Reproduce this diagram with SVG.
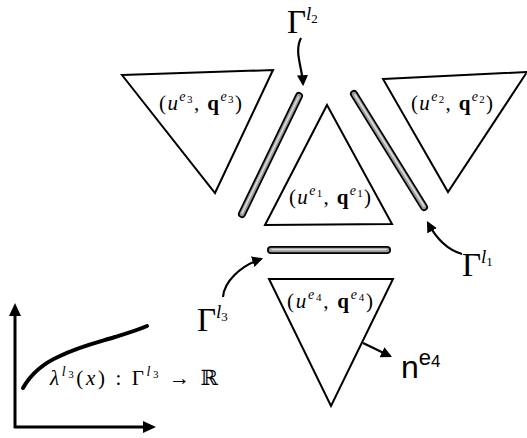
<svg xmlns="http://www.w3.org/2000/svg" width="527" height="438" viewBox="0 0 527 438">
<defs>
<style>
.tri{fill:#fff;stroke:#000;stroke-width:2;stroke-linejoin:miter}
.barO{stroke:#000;stroke-width:8;stroke-linecap:round;fill:none}
.barI{stroke:#9a9a9a;stroke-width:4.5;stroke-linecap:round;fill:none}
.barL{stroke:#dcdcdc;stroke-width:1.6;stroke-linecap:round;fill:none}
.arr{fill:none;stroke:#000;stroke-width:2.2}
.ax{fill:none;stroke:#000;stroke-width:3}
.m{font-family:"Liberation Serif","DejaVu Serif",serif;fill:#000}
.lab{font-size:21px}
.G{font-size:33px}
.s{font-family:"Liberation Sans","DejaVu Sans",sans-serif;fill:#000}
</style>
<marker id="ah" viewBox="0 0 10 10" refX="8" refY="5" markerWidth="5" markerHeight="5" orient="auto" markerUnits="strokeWidth">
<path d="M0,0 L10,5 L0,10 z" fill="#000"/>
</marker>
</defs>
<g id="e3">
<polygon class="tri" points="122,75 273,70 215,193"/>
<text class="m lab" x="159" y="110" textLength="83" lengthAdjust="spacing">(<tspan font-style="italic">u</tspan><tspan font-size="14" font-style="italic" dy="-9">e</tspan><tspan font-size="11" dy="2">3</tspan><tspan dy="7">, </tspan><tspan font-weight="bold">q</tspan><tspan font-size="14" font-style="italic" dy="-9">e</tspan><tspan font-size="11" dy="2">3</tspan><tspan dy="7">)</tspan></text>
</g>
<g id="e2">
<polygon class="tri" points="383,79 527,72 448,192"/>
<text class="m lab" x="411" y="110" textLength="82" lengthAdjust="spacing">(<tspan font-style="italic">u</tspan><tspan font-size="14" font-style="italic" dy="-9">e</tspan><tspan font-size="11" dy="2">2</tspan><tspan dy="7">, </tspan><tspan font-weight="bold">q</tspan><tspan font-size="14" font-style="italic" dy="-9">e</tspan><tspan font-size="11" dy="2">2</tspan><tspan dy="7">)</tspan></text>
</g>
<g id="e1">
<polygon class="tri" points="327,105 392,224 265,225"/>
<text class="m lab" x="289" y="204" textLength="82" lengthAdjust="spacing">(<tspan font-style="italic">u</tspan><tspan font-size="14" font-style="italic" dy="-9">e</tspan><tspan font-size="11" dy="2">1</tspan><tspan dy="7">, </tspan><tspan font-weight="bold">q</tspan><tspan font-size="14" font-style="italic" dy="-9">e</tspan><tspan font-size="11" dy="2">1</tspan><tspan dy="7">)</tspan></text>
</g>
<g id="e4">
<polygon class="tri" points="269,279 393,279 331,406"/>
<text class="m lab" x="287" y="308" textLength="86" lengthAdjust="spacing">(<tspan font-style="italic">u</tspan><tspan font-size="14" font-style="italic" dy="-9">e</tspan><tspan font-size="11" dy="2">4</tspan><tspan dy="7">, </tspan><tspan font-weight="bold">q</tspan><tspan font-size="14" font-style="italic" dy="-9">e</tspan><tspan font-size="11" dy="2">4</tspan><tspan dy="7">)</tspan></text>
</g>
<g id="l2">
<line class="barO" x1="299" y1="96" x2="242" y2="214"/>
<line class="barI" x1="299" y1="96" x2="242" y2="214"/>
<line class="barL" x1="298.5" y1="97" x2="242" y2="213"/>
<text class="m G" x="287" y="33">Γ<tspan font-size="19" font-style="italic" dy="-13">l</tspan><tspan font-size="13" dy="3">2</tspan></text>
</g>
<g id="l1">
<line class="barO" x1="354" y1="94" x2="424" y2="207"/>
<line class="barI" x1="354" y1="94" x2="424" y2="207"/>
<line class="barL" x1="355" y1="95" x2="424" y2="206"/>
<text class="m G" x="462" y="276">Γ<tspan font-size="19" font-style="italic" dy="-13">l</tspan><tspan font-size="13" dy="3">1</tspan></text>
</g>
<g id="l3">
<line class="barO" x1="271" y1="250" x2="387" y2="250"/>
<line class="barI" x1="271" y1="250" x2="387" y2="250"/>
<line class="barL" x1="272" y1="249.5" x2="386" y2="249.5"/>
<text class="m G" x="197" y="331">Γ<tspan font-size="19" font-style="italic" dy="-13">l</tspan><tspan font-size="13" dy="3">3</tspan></text>
</g>
<g id="n4">
<text class="s" x="401" y="378" font-size="32">n<tspan font-size="22" dy="-13">e</tspan><tspan font-size="17" dy="2">4</tspan></text>
</g>
<g id="plot">
<line class="ax" x1="15" y1="428" x2="15" y2="312"/>
<path d="M9,316 L15,303 L21,316 z" fill="#000"/>
<line class="ax" x1="14" y1="427" x2="146" y2="427"/>
<path d="M143,421 L156,427 L143,433 z" fill="#000"/>
<path d="M23,388 C32,372 44,363 60,356 C78,347 95,343 115,337 C128,333 138,330 147,326" fill="none" stroke="#000" stroke-width="4" stroke-linecap="round"/>
<text class="m" x="50" y="385" font-size="21" textLength="168" lengthAdjust="spacing"><tspan font-style="italic">λ</tspan><tspan font-size="14" font-style="italic" dy="-9">l</tspan><tspan font-size="11" dy="2">3</tspan><tspan dy="7">(</tspan><tspan font-style="italic">x</tspan>) : Γ<tspan font-size="14" font-style="italic" dy="-9">l</tspan><tspan font-size="11" dy="2">3</tspan><tspan dy="7"> → ℝ</tspan></text>
</g>
<g id="connectors">
<path class="arr" d="M301,38 C294,52 302,66 303,84" marker-end="url(#ah)"/>
<path class="arr" d="M462,254 C448,250 436,238 428,223" marker-end="url(#ah)"/>
<path class="arr" d="M223,297 C224,282 240,266 261,259" marker-end="url(#ah)"/>
<path class="arr" d="M363,343 L390,356" marker-end="url(#ah)"/>
</g>
</svg>
